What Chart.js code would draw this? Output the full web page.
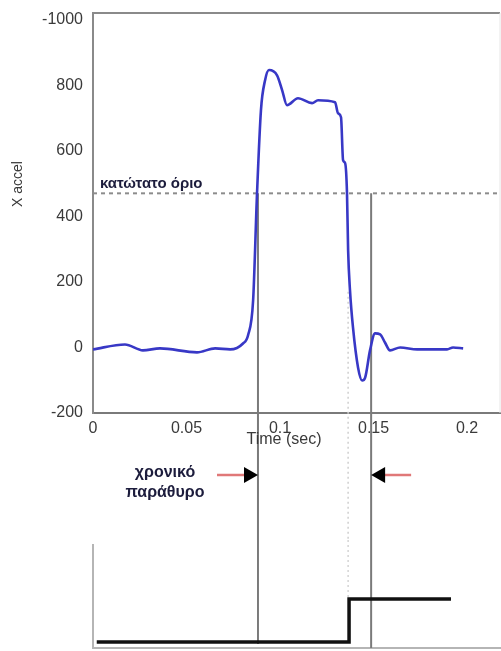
<!DOCTYPE html>
<html>
<head>
<meta charset="utf-8">
<script src="https://cdn.jsdelivr.net/npm/chart.js@4.4.1/dist/chart.umd.min.js"></script>
<style>
  html, body { margin: 0; padding: 0; background: #fff; }
  #wrap { position: relative; width: 501px; height: 651px; overflow: hidden; }
  canvas { position: absolute; left: 0; display: block; }
  #c1 { top: 0; }
  #c2 { top: 540px; }
</style>
</head>
<body>
<div id="wrap">
  <canvas id="c1" width="501" height="540"></canvas>
  <canvas id="c2" width="501" height="111"></canvas>
</div>
<script>
// ---------- data ----------
const timeSec = [0, 0.0171, 0.0267, 0.0358, 0.0556, 0.0653, 0.0733, 0.0802, 0.0829, 0.0856, 0.0877, 0.0898, 0.0920, 0.0941, 0.0984, 0.1011, 0.1037, 0.1096, 0.1171, 0.1203, 0.1294, 0.1310, 0.1326, 0.1337, 0.1348, 0.1358, 0.1364, 0.1374, 0.1390, 0.1417, 0.1439, 0.1455, 0.1481, 0.1508, 0.1535, 0.1561, 0.1588, 0.1642, 0.1733, 0.1893, 0.1925, 0.1979];
const xAccel  = [-6, 9, -9, -3, -15, -3, -6, 12, 37, 143, 470, 724, 815, 846, 830, 785, 739, 760, 745, 754, 748, 714, 702, 571, 562, 470, 296, 174, 61, -61, -101, -92, -9, 43, 40, 15, -9, 0, -6, -6, 0, -3];

const thresholdValue = 470;            // κατώτατο όριο
const thresholdSpan  = [0, 0.2176];

const windowStart = 0.0882;            // χρονικό παράθυρο
const windowEnd   = 0.1487;
const dottedMark  = 0.1364;

const stepTime  = [0.002, 0.1369, 0.1914];
const stepValue = [0, 1, 1];

const xTickValues = [0, 0.05, 0.1, 0.15, 0.2];
const xTickLabels = ['0', '0.05', '0.1', '0.15', '0.2'];
const yTickValues = [-200, 0, 200, 400, 600, 800, 1000];
const yTickLabels = ['-200', '0', '200', '400', '600', '800', '-1000'];

const xMin = 0, xMax = 0.2176;
const yMin = -200, yMax = 1020;

// ---------- helpers ----------
const FONT = "'Liberation Sans', Arial, sans-serif";
const TICK_COLOR = '#3a3a3a';

function line(ctx, x1, y1, x2, y2, color, w, dash) {
  ctx.save();
  ctx.strokeStyle = color; ctx.lineWidth = w;
  ctx.setLineDash(dash || []);
  ctx.beginPath(); ctx.moveTo(x1, y1); ctx.lineTo(x2, y2); ctx.stroke();
  ctx.restore();
}
function noPad(s) { s.paddingTop = 0; s.paddingBottom = 0; s.paddingLeft = 0; s.paddingRight = 0; }

// ---------- top chart ----------
const topOverlay = {
  id: 'topOverlay',
  beforeDatasetsDraw(chart) {
    const { ctx, chartArea: a, scales: { x, y } } = chart;
    line(ctx, a.left, a.top, a.right, a.top, '#8a8a8a', 2);
    line(ctx, a.right, a.top, a.right, a.bottom, '#e6e6e6', 1);
    const yT = y.getPixelForValue(thresholdValue);
    const xs = x.getPixelForValue(windowStart);
    const xe = x.getPixelForValue(windowEnd);
    const xd = x.getPixelForValue(dottedMark);
    line(ctx, xs, yT, xs, chart.height, '#7a7a7a', 2);
    line(ctx, xe, yT, xe, chart.height, '#7a7a7a', 2);
    line(ctx, xd, y.getPixelForValue(170), xd, chart.height, '#cfcfcf', 1.5, [2, 3]);
  },
  afterDraw(chart) {
    const { ctx, scales: { x, y } } = chart;
    ctx.save();
    ctx.fillStyle = TICK_COLOR;
    ctx.font = '16px ' + FONT;
    ctx.textAlign = 'center'; ctx.textBaseline = 'middle';
    ctx.fillText('Time (sec)', 284, 440);
    ctx.save();
    ctx.translate(18, 184); ctx.rotate(-Math.PI / 2);
    ctx.font = '14px ' + FONT;
    ctx.fillText('X accel', 0, 0);
    ctx.restore();
    const yT = y.getPixelForValue(thresholdValue);
    ctx.fillStyle = '#1c1c3c';
    ctx.font = '600 15px ' + FONT;
    ctx.textAlign = 'left';
    ctx.fillText('κατώτατο όριο', 100, yT - 9);
    ctx.textAlign = 'center';
    ctx.font = '600 16px ' + FONT;
    ctx.fillText('χρονικό', 165, 473);
    ctx.fillText('παράθυρο', 165, 493);
    const xs = x.getPixelForValue(windowStart);
    const xe = x.getPixelForValue(windowEnd);
    const ay = 475;
    line(ctx, xs - 41, ay, xs - 12, ay, '#e07878', 2.5);
    ctx.fillStyle = '#000';
    ctx.beginPath(); ctx.moveTo(xs, ay); ctx.lineTo(xs - 14, ay - 8); ctx.lineTo(xs - 14, ay + 8); ctx.closePath(); ctx.fill();
    line(ctx, xe + 12, ay, xe + 40, ay, '#e07878', 2.5);
    ctx.beginPath(); ctx.moveTo(xe, ay); ctx.lineTo(xe + 14, ay - 8); ctx.lineTo(xe + 14, ay + 8); ctx.closePath(); ctx.fill();
    ctx.restore();
  }
};

new Chart(document.getElementById('c1'), {
  type: 'line',
  data: {
    datasets: [
      {
        label: 'X accel',
        data: timeSec.map((t, i) => ({ x: t, y: xAccel[i] })),
        borderColor: '#3838c6',
        borderWidth: 2.6,
        pointRadius: 0,
        cubicInterpolationMode: 'monotone',
        order: 1
      },
      {
        label: 'threshold',
        data: thresholdSpan.map(t => ({ x: t, y: thresholdValue })),
        borderColor: '#8c8c8c',
        borderWidth: 2,
        borderDash: [4, 4],
        pointRadius: 0,
        order: 2
      }
    ]
  },
  options: {
    responsive: false,
    animation: false,
    devicePixelRatio: 1,
    layout: { padding: { top: 13, right: 1, left: 0, bottom: 0 } },
    plugins: { legend: { display: false }, tooltip: { enabled: false } },
    scales: {
      x: {
        type: 'linear', min: xMin, max: xMax,
        afterBuildTicks(s) { s.ticks = xTickValues.map(v => ({ value: v })); },
        afterFit(s) { s.height = 127; noPad(s); },
        grid: { display: false, drawTicks: false },
        border: { display: true, color: '#7a7a7a', width: 2 },
        ticks: {
          padding: 6, color: TICK_COLOR, maxRotation: 0, autoSkip: false,
          font: { family: FONT, size: 16 },
          callback(v) { const i = xTickValues.indexOf(v); return i >= 0 ? xTickLabels[i] : ''; }
        }
      },
      y: {
        type: 'linear', min: yMin, max: yMax,
        afterBuildTicks(s) { s.ticks = yTickValues.map(v => ({ value: v })); },
        afterFit(s) { s.width = 93; noPad(s); },
        grid: { display: false, drawTicks: false },
        border: { display: true, color: '#8a8a8a', width: 2 },
        ticks: {
          padding: 10, color: TICK_COLOR, autoSkip: false,
          font: { family: FONT, size: 16 },
          callback(v) { const i = yTickValues.indexOf(v); return i >= 0 ? yTickLabels[i] : ''; }
        }
      }
    }
  },
  plugins: [topOverlay]
});

// ---------- bottom chart ----------
const bottomOverlay = {
  id: 'bottomOverlay',
  beforeDatasetsDraw(chart) {
    const { ctx, chartArea: a, scales: { x } } = chart;
    const xs = x.getPixelForValue(windowStart);
    const xe = x.getPixelForValue(windowEnd);
    const xd = x.getPixelForValue(dottedMark);
    line(ctx, xs, 0, xs, a.bottom - 4, '#7a7a7a', 2);
    line(ctx, xe, 0, xe, a.bottom, '#7a7a7a', 2);
    line(ctx, xd, 0, xd, 60, '#d4d4d4', 1.5, [2, 3]);
  }
};

new Chart(document.getElementById('c2'), {
  type: 'line',
  data: {
    datasets: [{
      label: 'window',
      data: stepTime.map((t, i) => ({ x: t, y: stepValue[i] })),
      stepped: 'before',
      borderColor: '#111',
      borderWidth: 3.5,
      pointRadius: 0
    }]
  },
  options: {
    responsive: false,
    animation: false,
    devicePixelRatio: 1,
    layout: { padding: { top: 5, right: 1, left: 0, bottom: 0 } },
    plugins: { legend: { display: false }, tooltip: { enabled: false } },
    scales: {
      x: {
        type: 'linear', min: xMin, max: xMax,
        afterFit(s) { s.height = 3; noPad(s); },
        grid: { display: false, drawTicks: false },
        border: { display: true, color: '#b5b5b5', width: 2 },
        ticks: { display: false }
      },
      y: {
        type: 'linear', min: -0.14, max: 2.256,
        afterFit(s) { s.width = 93; noPad(s); },
        grid: { display: false, drawTicks: false },
        border: { display: true, color: '#b5b5b5', width: 2 },
        ticks: { display: false }
      }
    }
  },
  plugins: [bottomOverlay]
});
</script>
</body>
</html>
